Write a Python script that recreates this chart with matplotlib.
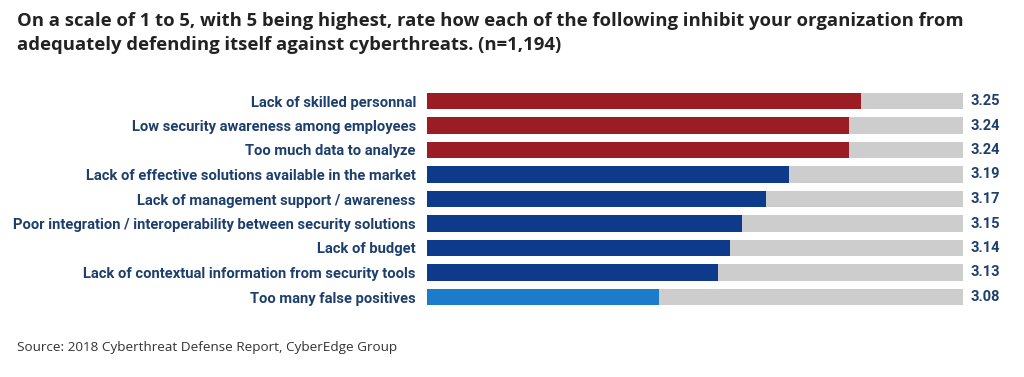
import matplotlib.pyplot as plt

categories = [
    "Lack of skilled personnal",
    "Low security awareness among employees",
    "Too much data to analyze",
    "Lack of effective solutions available in the market",
    "Lack of management support / awareness",
    "Poor integration / interoperability between security solutions",
    "Lack of budget",
    "Lack of contextual information from security tools",
    "Too many false positives",
]
scores = [3.25, 3.24, 3.24, 3.19, 3.17, 3.15, 3.14, 3.13, 3.08]
bar_colors = ["#9b1c22"] * 3 + ["#0e3a8c"] * 5 + ["#1a7ccb"]

TITLE = ("On a scale of 1 to 5, with 5 being highest, rate how each of the following inhibit your organization from\n"
         "adequately defending itself against cyberthreats. (n=1,194)")
SOURCE = "Source: 2018 Cyberthreat Defense Report, CyberEdge Group"

X_MIN, X_MAX = 2.885, 3.336
LABEL_COLOR = "#1d3f6e"

plt.rcParams["font.family"] = ["Open Sans", "DejaVu Sans"]

fig = plt.figure(figsize=(10.24, 3.77), dpi=100)
ax = fig.add_axes([427 / 1024, 1 - 309.25 / 377, (963 - 427) / 1024, 220.5 / 377])

y = list(range(len(categories)))
ax.barh(y, [X_MAX - X_MIN] * len(y), left=X_MIN, height=0.66, color="#cdcdcd")
ax.barh(y, [s - X_MIN for s in scores], left=X_MIN, height=0.66, color=bar_colors)

for yi, s in zip(y, scores):
    ax.text(X_MAX + 0.006, yi, f"{s:.2f}", va="center", ha="left", family="Roboto",
            fontsize=10.5, fontweight="bold", color=LABEL_COLOR)

ax.set_xlim(X_MIN, X_MAX)
ax.set_ylim(len(y) - 0.5, -0.5)
ax.set_yticks(y)
ax.set_yticklabels(categories, fontsize=10.6, fontweight="bold", color=LABEL_COLOR,
                   family="Roboto")
ax.tick_params(axis="y", length=0, pad=8)
ax.set_xticks([])
for side in ax.spines.values():
    side.set_visible(False)

fig.text(17 / 1024, 1 - 12 / 377, TITLE, ha="left", va="top", fontsize=13.3,
         fontweight="bold", color="#222222", linespacing=1.4)
fig.text(17 / 1024, 1 - 347 / 377, SOURCE, ha="left", va="center", fontsize=9.7,
         color="#333333")

fig.savefig("out.png", dpi=100, facecolor="white")
